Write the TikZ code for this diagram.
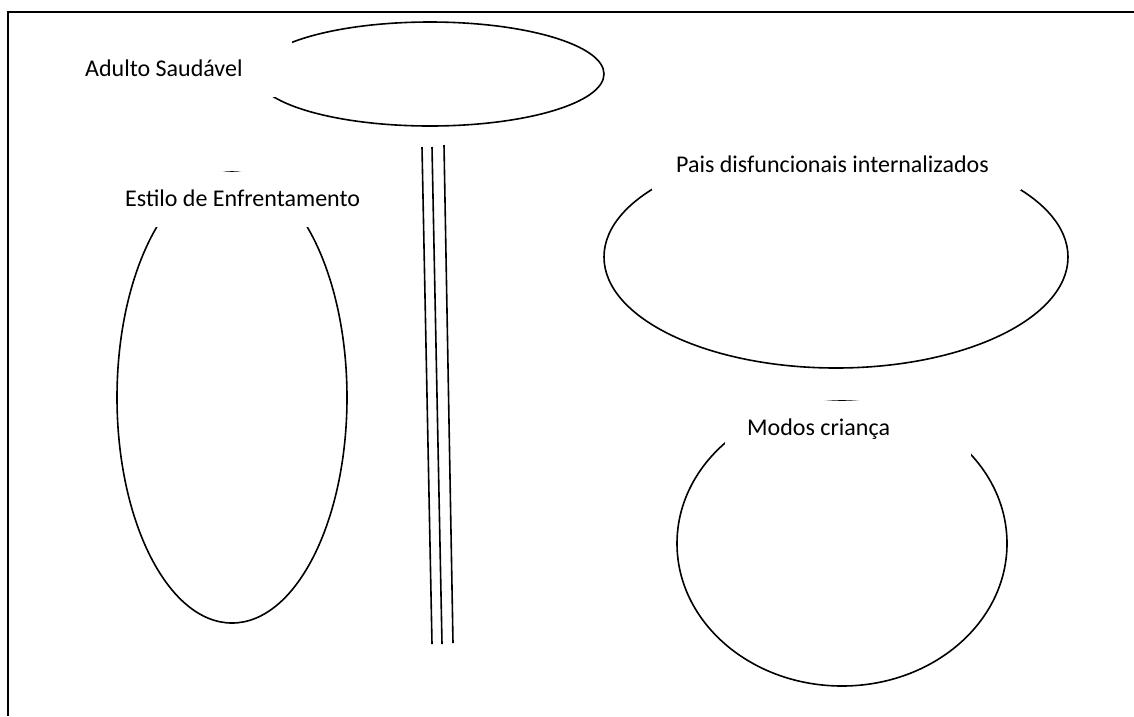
\documentclass[tikz,border=0pt]{standalone}
\usepackage{fontspec}
\setmainfont{Carlito}
\usetikzlibrary{shapes.geometric}
\begin{document}
\begin{tikzpicture}[x=1pt,y=-1pt,
  oval/.style={draw, ellipse, line width=1.6pt, inner sep=0pt, outer sep=0pt},
  cover/.style={fill=white, draw=none, inner sep=0pt, outer sep=0pt, anchor=north west},
  caption/.style={anchor=base west, inner sep=0pt, font=\fontsize{24}{28}\selectfont},
  bar/.style={line width=1.6pt}]
\useasboundingbox (0,0) rectangle (1134,716);

% page frame (top and left edges)
\coordinate (fbl) at (8,716);
\coordinate (ftl) at (8,12);
\coordinate (ftr) at (1134,12);
\draw[line width=1.8pt] (fbl) -- (ftl) -- (ftr);

% the four ovals
\node[oval, minimum width=348pt, minimum height=104pt] (adulto) at (430,74) {};
\node[oval, minimum width=230pt, minimum height=451pt] (estilo) at (232,397.5) {};
\node[oval, minimum width=464pt, minimum height=222pt] (pais) at (836,257) {};
\node[oval, minimum width=330pt, minimum height=285pt] (modos) at (842,543.5) {};

% white text boxes lying over the ovals
\node[cover, minimum width=232pt, minimum height=59pt] (adultobox) at (60,38) {};
\node[cover, minimum width=255pt, minimum height=54.6pt] (estilobox) at (110,172.4) {};
\node[cover, minimum width=369pt, minimum height=50pt] (paisbox) at (652,140) {};
\node[cover, minimum width=246pt, minimum height=55.6pt] (modosbox) at (725,401.4) {};

% labels
\node[caption] (adultotxt) at (85,76) {Adulto Saudável};
\node[caption] (estilotxt) at (125,206.5) {Estilo de Enfrentamento};
\node[caption] (paistxt) at (676,172) {Pais disfuncionais internalizados};
\node[caption] (modostxt) at (747,435.5) {Modos criança};

% three parallel rules
\coordinate (r1a) at (422,147);
\coordinate (r1b) at (432,644);
\coordinate (r2a) at (432,147);
\coordinate (r2b) at (442,644);
\coordinate (r3a) at (444,145);
\coordinate (r3b) at (453,643);
\draw[bar] (r1a) -- (r1b);
\draw[bar] (r2a) -- (r2b);
\draw[bar] (r3a) -- (r3b);
\end{tikzpicture}
\end{document}
